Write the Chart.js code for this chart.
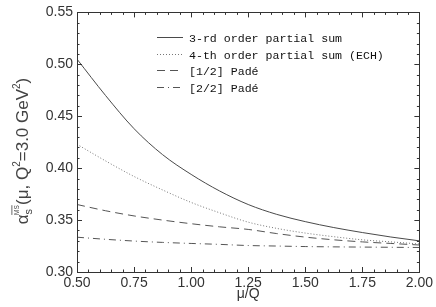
<!DOCTYPE html>
<html>
<head>
<meta charset="utf-8">
<script src="https://cdn.jsdelivr.net/npm/chart.js@4/dist/chart.umd.min.js"></script>
<style>
  html, body { margin: 0; padding: 0; background: #fff; }
  #wrap { width: 436px; height: 307px; position: relative; }
</style>
</head>
<body>
<div id="wrap"><canvas id="c" width="436" height="307"></canvas></div>
<script>
// ---- data ----
const muValues = [0.5, 0.625, 0.75, 0.875, 1.0, 1.125, 1.25, 1.375, 1.5, 1.625, 1.75, 1.875, 2.0];
const sum3rd   = [0.505, 0.470, 0.438, 0.413, 0.394, 0.378, 0.365, 0.3555, 0.3485, 0.3428, 0.338, 0.3337, 0.330];
const sum4th   = [0.423, 0.407, 0.392, 0.379, 0.367, 0.357, 0.348, 0.342, 0.3375, 0.334, 0.331, 0.329, 0.327];
const pade12   = [0.365, 0.359, 0.354, 0.350, 0.3465, 0.3435, 0.341, 0.337, 0.3336, 0.331, 0.329, 0.3275, 0.326];
const pade22   = [0.3335, 0.3315, 0.3298, 0.3285, 0.3275, 0.3266, 0.3255, 0.325, 0.3245, 0.3242, 0.324, 0.3238, 0.3236];
const seriesLabels = ['3-rd order partial sum', '4-th order partial sum (ECH)', '[1/2] Padé', '[2/2] Padé'];
const xTicks = [0.50, 0.75, 1.00, 1.25, 1.50, 1.75, 2.00];
const yTicks = [0.30, 0.35, 0.40, 0.45, 0.50, 0.55];
const xMinorStep = 0.05;
const yMinorStep = 0.01;

const toPts = arr => arr.map((v, i) => ({ x: muValues[i], y: v }));
const lineColor = '#555';

const datasets = [
  { label: seriesLabels[0], data: toPts(sum3rd), borderColor: '#4a4a4a', borderWidth: 1, borderDash: [] },
  { label: seriesLabels[1], data: toPts(sum4th), borderColor: '#777', borderWidth: 1, borderDash: [1, 2] },
  { label: seriesLabels[2], data: toPts(pade12), borderColor: lineColor, borderWidth: 1, borderDash: [8, 5] },
  { label: seriesLabels[3], data: toPts(pade22), borderColor: lineColor, borderWidth: 1, borderDash: [7, 4, 1, 4] }
].map(d => Object.assign(d, { pointRadius: 0, fill: false, cubicInterpolationMode: 'monotone' }));

// inward ticks on all four sides + frame
const frameTicks = {
  id: 'frameTicks',
  afterDraw(chart) {
    const { ctx, chartArea: a, scales: { x, y } } = chart;
    ctx.save();
    ctx.strokeStyle = '#333';
    ctx.lineWidth = 1;
    ctx.strokeRect(Math.round(a.left) + 0.5, Math.round(a.top) + 0.5, Math.round(a.right - a.left), Math.round(a.bottom - a.top));
    ctx.beginPath();
    const nx = Math.round((x.max - x.min) / xMinorStep);
    for (let i = 0; i <= nx; i++) {
      const v = x.min + i * xMinorStep;
      const px = Math.round(x.getPixelForValue(v)) + 0.5;
      const major = xTicks.some(t => Math.abs(t - v) < 1e-6);
      const len = major ? 5 : 2.5;
      ctx.moveTo(px, a.bottom); ctx.lineTo(px, a.bottom - len);
      ctx.moveTo(px, a.top); ctx.lineTo(px, a.top + len);
    }
    const ny = Math.round((y.max - y.min) / yMinorStep);
    for (let i = 0; i <= ny; i++) {
      const v = y.min + i * yMinorStep;
      const py = Math.round(y.getPixelForValue(v)) + 0.5;
      const major = yTicks.some(t => Math.abs(t - v) < 1e-6);
      const len = major ? 5 : 2.5;
      ctx.moveTo(a.left, py); ctx.lineTo(a.left + len, py);
      ctx.moveTo(a.right, py); ctx.lineTo(a.right - len, py);
    }
    ctx.stroke();
    ctx.restore();
  }
};

// legend drawn inside plot
const innerLegend = {
  id: 'innerLegend',
  afterDraw(chart) {
    const { ctx } = chart;
    ctx.save();
    ctx.font = '11.6px "Liberation Mono", "DejaVu Sans Mono", monospace';
    ctx.textBaseline = 'middle';
    ctx.fillStyle = '#111';
    const x0 = 157, x1 = 183, tx = 189, y0 = 37, dy = 16.5;
    chart.data.datasets.forEach((ds, i) => {
      const yy = Math.round(y0 + i * dy) + 0.5;
      ctx.strokeStyle = ds.borderColor;
      ctx.lineWidth = 1;
      ctx.setLineDash(ds.borderDash || []);
      ctx.beginPath(); ctx.moveTo(x0, yy); ctx.lineTo(x1, yy); ctx.stroke();
      ctx.setLineDash([]);
      ctx.fillText(ds.label, tx, yy + 1);
    });
    ctx.restore();
  }
};

// rotated y-axis title with sub/superscripts
const yTitle = {
  id: 'yTitle',
  afterDraw(chart) {
    const { ctx } = chart;
    const parts = [
      { t: 'α', s: 17, dy: 0 },
      { t: 's', s: 11, dy: 4 },
      { t: '(μ, Q', s: 17, dy: 0, gap: 4 },
      { t: '2', s: 10, dy: -8 },
      { t: '=3.0 GeV', s: 17, dy: 0 },
      { t: '2', s: 10, dy: -8 },
      { t: ')', s: 17, dy: 0 }
    ];
    const fam = '"Liberation Sans", "DejaVu Sans", sans-serif';
    ctx.save();
    let total = 0;
    parts.forEach(p => { ctx.font = p.s + 'px ' + fam; p.w = ctx.measureText(p.t).width; total += p.w + (p.gap || 0); });
    const cx = 22, cy = 151;
    ctx.translate(cx, cy);
    ctx.rotate(-Math.PI / 2);
    ctx.fillStyle = '#444';
    ctx.textBaseline = 'alphabetic';
    let xx = -total / 2;
    parts.forEach((p, i) => {
      xx += (p.gap || 0);
      ctx.font = p.s + 'px ' + fam;
      ctx.fillText(p.t, xx, 6 + p.dy);
      if (i === 1) {
        // MS-bar superscript above the subscript s
        ctx.font = '6.5px ' + fam;
        ctx.fillText('MS', xx - 0.5, -3);
        ctx.fillRect(xx - 0.5, -10.5, ctx.measureText('MS').width, 0.8);
        ctx.font = p.s + 'px ' + fam;
      }
      xx += p.w;
    });
    ctx.restore();
  }
};

new Chart(document.getElementById('c'), {
  type: 'line',
  data: { datasets },
  options: {
    responsive: false,
    animation: false,
    devicePixelRatio: 1,
    layout: { padding: { left: 0, top: 4, right: 13, bottom: 0 } },
    plugins: { legend: { display: false }, tooltip: { enabled: false } },
    scales: {
      x: {
        type: 'linear', min: 0.5, max: 2.0,
        afterBuildTicks: s => { s.ticks = xTicks.map(v => ({ value: v })); },
        afterFit: s => { s.height = 35; },
        grid: { display: false, drawTicks: false },
        border: { display: false },
        ticks: { color: '#333', font: { size: 14, family: '"Liberation Sans", "DejaVu Sans", sans-serif' }, padding: 3, maxRotation: 0, callback: v => v.toFixed(2) },
        title: { display: true, text: 'μ/Q', color: '#333', font: { size: 14, family: '"Liberation Sans", "DejaVu Sans", sans-serif' }, padding: { top: -5, bottom: 4 } }
      },
      y: {
        type: 'linear', min: 0.30, max: 0.55,
        afterBuildTicks: s => { s.ticks = yTicks.map(v => ({ value: v })); },
        afterFit: s => { s.width = 77; },
        grid: { display: false, drawTicks: false },
        border: { display: false },
        ticks: { color: '#333', font: { size: 14, family: '"Liberation Sans", "DejaVu Sans", sans-serif' }, padding: 4, callback: v => v.toFixed(2) }
      }
    }
  },
  plugins: [frameTicks, innerLegend, yTitle]
});
</script>
</body>
</html>
